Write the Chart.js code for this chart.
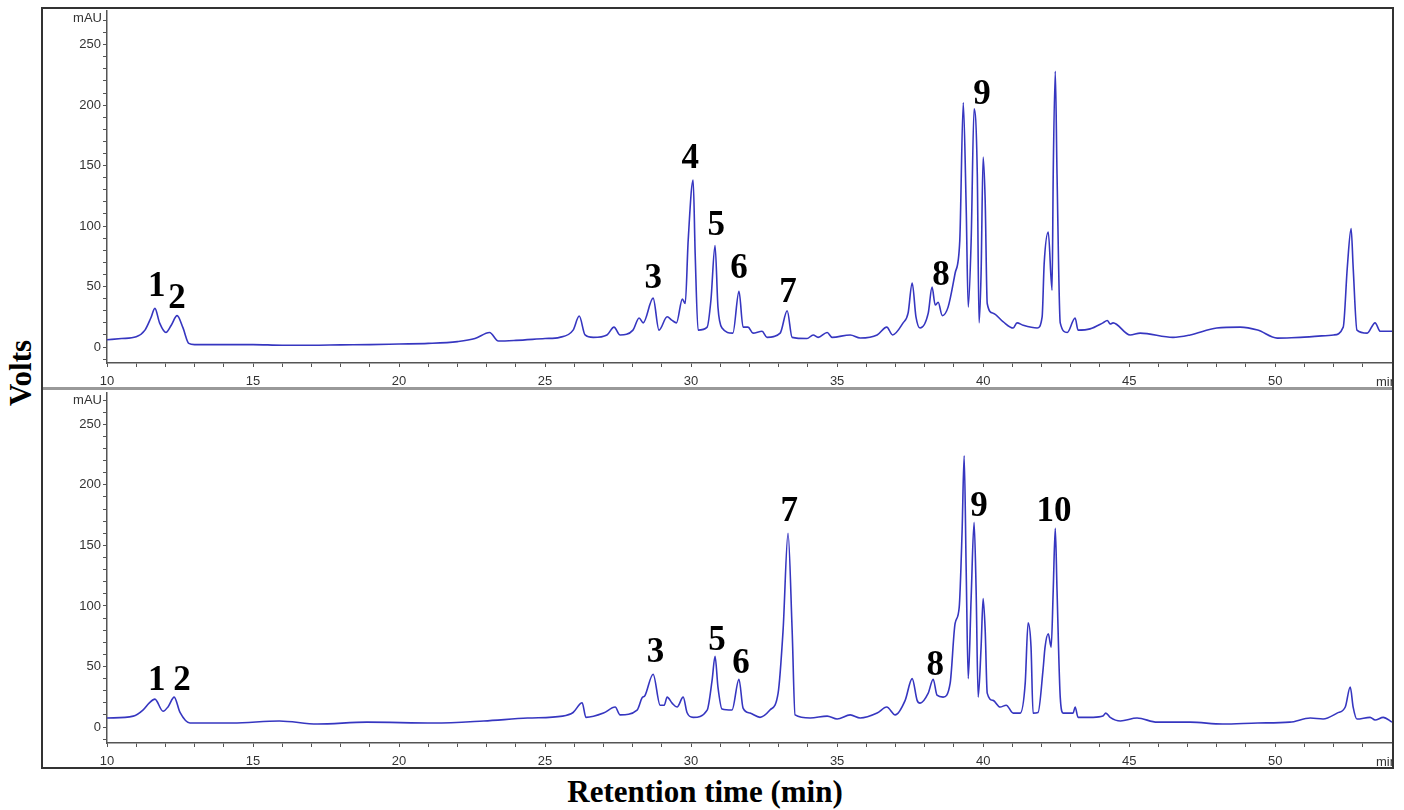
<!DOCTYPE html>
<html>
<head>
<meta charset="utf-8">
<script src="https://cdn.jsdelivr.net/npm/chart.js@4"></script>
<style>
  body { margin: 0; background: #fff; width: 1404px; height: 810px; position: relative; overflow: hidden; }
  canvas { position: absolute; }
  #frame { position: absolute; left: 41px; top: 7px; width: 1353px; height: 762px; box-sizing: border-box;
           border: 2px solid #333; pointer-events: none; z-index: 5; }
  #split { position: absolute; left: 41px; top: 387px; width: 1352px; height: 3px; background: #999; z-index: 4; }
  .title { position: absolute; font-family: "Liberation Serif", serif; font-weight: bold; color: #000; white-space: nowrap; }
  #ytitle { left: 21px; top: 373px; font-size: 31px; transform: translate(-50%, -50%) rotate(-90deg); }
  #xtitle { left: 705px; top: 792px; font-size: 31px; transform: translate(-50%, -50%); }
</style>
</head>
<body>
<canvas id="top" width="1352" height="387" style="left:41px; top:1px;"></canvas>
<canvas id="bottom" width="1352" height="385" style="left:41px; top:383px;"></canvas>
<div id="split"></div>
<div id="frame"></div>
<div class="title" id="ytitle">Volts</div>
<div class="title" id="xtitle">Retention time (min)</div>
<script>
// upper chromatogram (min, mAU)
const timeTop = [10, 10.5, 11, 11.3, 11.5, 11.64, 11.8, 12.02, 12.2, 12.4, 12.6, 12.8, 13, 14, 15, 16, 17, 18, 19, 20, 21, 22, 22.6, 23.1, 23.4, 24, 25, 25.5, 25.96, 26.17, 26.37, 26.65, 27.12, 27.36, 27.57, 28.01, 28.22, 28.36, 28.7, 28.9, 29.18, 29.35, 29.5, 29.7, 29.8, 29.9, 30.07, 30.14, 30.24, 30.55, 30.68, 30.82, 30.92, 31.06, 31.43, 31.64, 31.78, 31.95, 32.12, 32.43, 32.6, 33.05, 33.29, 33.46, 33.97, 34.18, 34.35, 34.66, 34.83, 35.45, 35.79, 36.37, 36.7, 36.9, 37.26, 37.43, 37.57, 37.7, 37.84, 38.12, 38.25, 38.36, 38.46, 38.6, 38.8, 39.04, 39.2, 39.32, 39.42, 39.49, 39.59, 39.69, 39.8, 39.86, 39.93, 40.0, 40.07, 40.14, 40.34, 40.68, 41.03, 41.16, 41.37, 41.85, 42.02, 42.09, 42.23, 42.36, 42.4, 42.47, 42.53, 42.64, 42.88, 43.15, 43.25, 43.66, 44.1, 44.25, 44.35, 44.45, 45.03, 45.38, 46.5, 47.09, 48.0, 48.8, 49.4, 50.07, 50.86, 52.0, 52.33, 52.47, 52.6, 52.67, 52.8, 53.15, 53.42, 53.6, 54.0];
const signalTop = [6, 7, 8.5, 14, 24, 32, 20, 12, 18, 26, 16, 3, 2, 2, 2, 1.5, 1.5, 1.8, 2, 2.5, 3, 4.5, 7, 12, 5, 5.5, 7, 8, 14, 25.6, 10, 8, 10, 16.5, 10, 14, 24, 20, 40.4, 14, 25, 22, 20, 39.6, 36, 88, 138, 77, 14, 16.5, 39, 84, 33, 15.7, 11.5, 46, 16.5, 16.5, 11.5, 13, 8, 11.5, 30, 8, 7, 10, 8, 12, 8, 10, 7.5, 10, 16.5, 10, 20, 28, 53, 25, 15.7, 28, 49.5, 34.7, 37, 26, 33, 61, 88, 202, 115, 33, 88, 197, 143, 20, 61, 157, 121, 36, 28, 21, 15.7, 20, 18, 15.7, 25, 69, 95, 47, 143, 228, 143, 20, 12, 24, 14, 15, 20, 22, 19, 20, 10, 11.5, 8, 10, 15.7, 16.5, 14, 7.4, 8, 10, 16.5, 66, 98, 66, 14, 11.5, 20, 13, 13];

// lower chromatogram (min, mAU)
const timeBottom = [10, 10.9, 11.23, 11.45, 11.64, 11.92, 12.1, 12.3, 12.5, 12.84, 14.3, 15.9, 17.2, 18.9, 21.2, 22.9, 24.4, 25.6, 25.96, 26.27, 26.4, 27, 27.4, 27.57, 28.15, 28.32, 28.42, 28.7, 28.94, 29.08, 29.18, 29.35, 29.52, 29.73, 29.86, 30.07, 30.55, 30.72, 30.82, 30.92, 31.06, 31.4, 31.64, 31.78, 32.02, 32.36, 32.7, 32.98, 33.15, 33.32, 33.46, 33.56, 34.08, 34.66, 35, 35.45, 35.79, 36.37, 36.7, 36.99, 37.33, 37.57, 37.74, 37.84, 38.12, 38.29, 38.42, 38.63, 38.87, 39.04, 39.18, 39.28, 39.35, 39.42, 39.49, 39.59, 39.69, 39.76, 39.83, 39.93, 40.0, 40.07, 40.14, 40.34, 40.58, 40.79, 41.03, 41.27, 41.44, 41.54, 41.64, 41.71, 41.88, 42.05, 42.12, 42.23, 42.33, 42.4, 42.47, 42.53, 42.64, 42.74, 43.08, 43.15, 43.25, 43.77, 44.1, 44.2, 44.35, 44.7, 45.27, 45.96, 47.09, 48.2, 49.4, 50.5, 51.2, 51.64, 52.12, 52.4, 52.57, 52.67, 52.8, 53.25, 53.42, 53.7, 54.0];
const signalBottom = [7.4, 9, 14, 20, 23, 13, 17, 24.7, 12, 3.3, 3.3, 5, 2.5, 4, 3.3, 5, 7.4, 9, 12, 20, 8, 11.5, 16.5, 10, 14, 24, 26, 43.6, 18, 18, 24.7, 19.7, 16.5, 24.7, 12, 8, 14, 38.7, 58.4, 33, 14.8, 14, 39.5, 15.6, 11.5, 8, 14, 28, 80, 160, 80, 10, 7.4, 9, 6.6, 10, 7.4, 11.5, 16.5, 10, 22, 40, 22, 19.7, 28, 39.5, 26.3, 24.7, 36, 85.5, 98.7, 162, 224, 129, 40, 107, 169, 113, 24.7, 66, 106, 80, 28, 22, 16.5, 18, 11.5, 11.5, 36, 86, 66, 11.5, 12, 47, 66, 77, 66, 113, 164, 113, 24.7, 11.5, 11.5, 16.5, 8, 8, 9, 11.5, 8, 5, 7.4, 4, 4, 2.5, 3.3, 4, 7.4, 6.6, 11.5, 16.5, 33, 16.5, 6.6, 8, 5.8, 8, 4];

// peak numbers: text, time of label centre, mAU level of label baseline
const peakTextTop = ['1', '2', '3', '4', '5', '6', '7', '8', '9'];
const peakTimeTop = [11.7, 12.4, 28.7, 29.97, 30.86, 31.64, 33.32, 38.56, 39.96];
const peakLevelTop = [42, 32, 48.5, 148, 93, 57, 37, 51, 201];

const peakTextBottom = ['1', '2', '3', '5', '6', '7', '8', '9', '10'];
const peakTimeBottom = [11.7, 12.57, 28.78, 30.89, 31.71, 33.36, 38.36, 39.86, 42.43];
const peakLevelBottom = [30.4, 30.4, 53.5, 63.3, 45, 170, 42.8, 174, 170];

const yTickValues = [-10, 0, 10, 20, 30, 40, 50, 60, 70, 80, 90, 100, 110, 120, 130, 140, 150, 160, 170, 180, 190, 200, 210, 220, 230, 240, 250, 260, 270];
const xTickValues = [10, 11, 12, 13, 14, 15, 16, 17, 18, 19, 20, 21, 22, 23, 24, 25, 26, 27, 28, 29, 30, 31, 32, 33, 34, 35, 36, 37, 38, 39, 40, 41, 42, 43, 44, 45, 46, 47, 48, 49, 50, 51, 52, 53, 54];

const annotate = {
    id: 'annotate',
    afterDatasetsDraw(chart, args, opts) {
        const { ctx, chartArea } = chart;
        const x = chart.scales.x, y = chart.scales.y;
        ctx.save();
        ctx.fillStyle = '#333';
        ctx.font = '13px "Liberation Sans", Arial, sans-serif';
        ctx.textAlign = 'right';
        ctx.textBaseline = 'middle';
        ctx.fillText('mAU', chartArea.left - 5, chartArea.top + 8);
        ctx.textAlign = 'left';
        ctx.fillText('min', x.getPixelForValue(53.45), chartArea.bottom + 19);
        ctx.fillStyle = '#000';
        ctx.font = 'bold 35px "Liberation Serif", "Times New Roman", serif';
        ctx.textAlign = 'center';
        ctx.textBaseline = 'alphabetic';
        opts.texts.forEach((t, i) => {
            ctx.fillText(t, x.getPixelForValue(opts.times[i]), y.getPixelForValue(opts.levels[i]));
        });
        ctx.restore();
    }
};

function makePanel(id, times, signal, texts, peakTimes, peakLevels, yMax) {
    return new Chart(document.getElementById(id), {
        type: 'line',
        data: {
            datasets: [{
                data: times.map((t, i) => ({ x: t, y: signal[i] })),
                borderColor: '#3636c0',
                borderWidth: 1.6,
                pointRadius: 0,
                cubicInterpolationMode: 'monotone',
                fill: false
            }]
        },
        options: {
            responsive: false,
            animation: false,
            layout: { autoPadding: false, padding: { top: 0, right: 1, left: 0, bottom: 0 } },
            plugins: {
                legend: { display: false },
                tooltip: { enabled: false },
                annotate: { texts: texts, times: peakTimes, levels: peakLevels }
            },
            scales: {
                x: {
                    type: 'linear',
                    min: 10, max: 54,
                    afterFit: s => { s.height = 25; s.paddingRight = 0; s.paddingLeft = 0; },
                    afterBuildTicks: s => { s.ticks = xTickValues.map(v => ({ value: v })); },
                    grid: { drawOnChartArea: false, tickLength: 4, color: '#555', tickWidth: 1 },
                    border: { color: '#555', width: 1.5 },
                    ticks: {
                        autoSkip: false, maxRotation: 0, padding: 7,
                        color: '#333', font: { family: '"Liberation Sans", Arial', size: 13 },
                        callback: v => (v % 5 === 0 && v <= 50) ? String(v) : ''
                    }
                },
                y: {
                    min: -13.2, max: yMax,
                    afterFit: s => { s.width = 66; },
                    afterBuildTicks: s => { s.ticks = yTickValues.map(v => ({ value: v })); },
                    grid: { drawOnChartArea: false, tickLength: 4, color: '#555', tickWidth: 1 },
                    border: { color: '#555', width: 1.5 },
                    ticks: {
                        autoSkip: false, padding: 2,
                        color: '#333', font: { family: '"Liberation Sans", Arial', size: 13 },
                        callback: v => (v % 50 === 0 && v >= 0) ? String(v) : ''
                    }
                }
            }
        },
        plugins: [annotate]
    });
}

makePanel('top', timeTop, signalTop, peakTextTop, peakTimeTop, peakLevelTop, 278);
makePanel('bottom', timeBottom, signalBottom, peakTextBottom, peakTimeBottom, peakLevelBottom, 276);
</script>
</body>
</html>
